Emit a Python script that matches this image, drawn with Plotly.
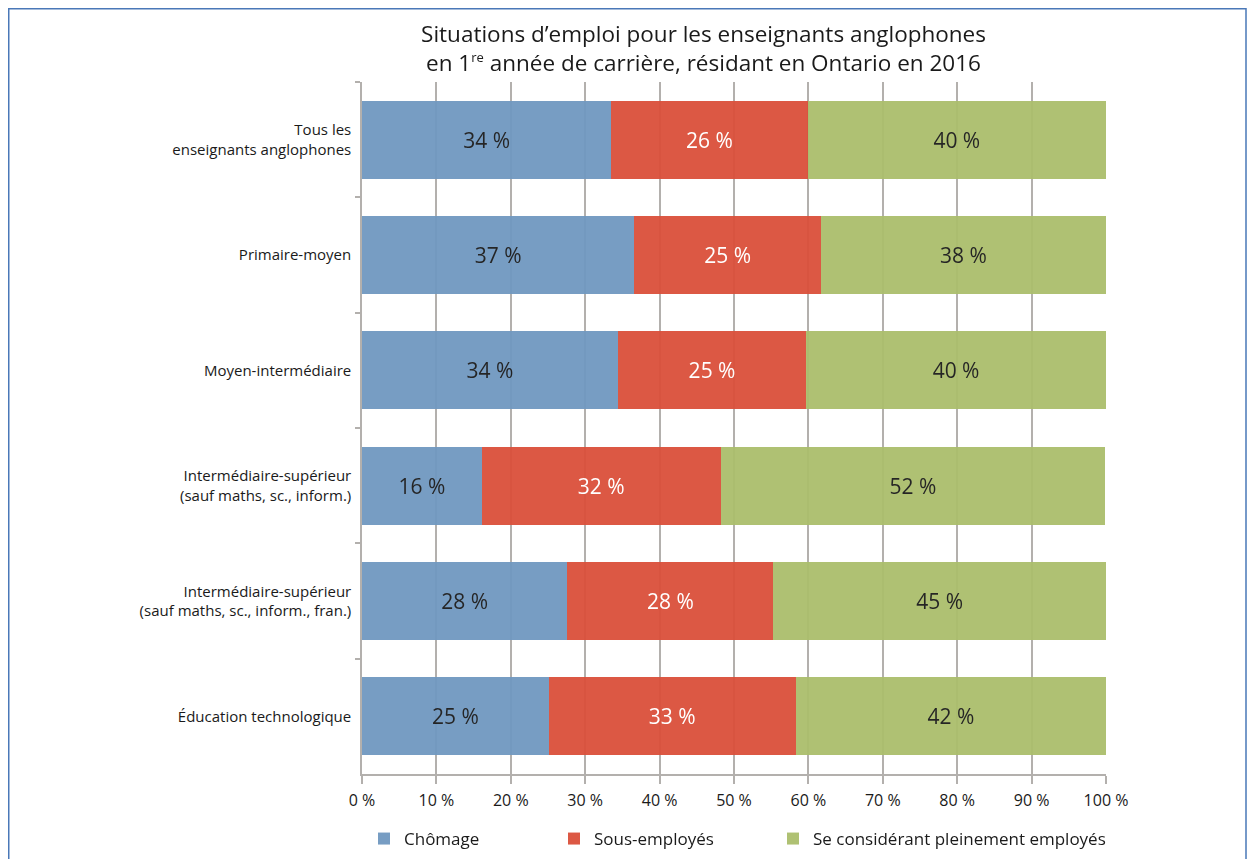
import plotly.graph_objects as go

categories = [
    "Tous les<br>enseignants anglophones",
    "Primaire-moyen",
    "Moyen-intermédiaire",
    "Intermédiaire-supérieur<br>(sauf maths, sc., inform.)",
    "Intermédiaire-supérieur<br>(sauf maths, sc., inform., fran.)",
    "Éducation technologique",
]
chomage = [33.5, 36.6, 34.4, 16.1, 27.6, 25.1]
sous_employes = [26.4, 25.1, 25.3, 32.1, 27.7, 33.2]
pleinement = [40.1, 38.3, 40.3, 51.7, 44.7, 41.7]
chomage_lbl = ["34 %", "37 %", "34 %", "16 %", "28 %", "25 %"]
sous_lbl = ["26 %", "25 %", "25 %", "32 %", "28 %", "33 %"]
plein_lbl = ["40 %", "38 %", "40 %", "52 %", "45 %", "42 %"]
tick_vals = [0, 10, 20, 30, 40, 50, 60, 70, 80, 90, 100]
tick_text = ["0 %", "10 %", "20 %", "30 %", "40 %", "50 %", "60 %", "70 %", "80 %", "90 %", "100 %"]

FONT = "Open Sans"
WT = 500
TXT = "#1a1a1a"
W, H = 1239, 851
L, R, T, B = 354, 141, 74, 85
PW, PH = W - L - R, H - T - B

series = [
    ("Chômage", chomage, chomage_lbl, "#7098c0", TXT, "legend"),
    ("Sous-employés", sous_employes, sous_lbl, "#db503a", "#ffffff", "legend2"),
    ("Se considérant pleinement employés", pleinement, plein_lbl, "#abbe6c", TXT, "legend3"),
]

fig = go.Figure()
for name, vals, lbls, col, tcol, lg in series:
    fig.add_trace(go.Bar(
        name=name, y=categories, x=vals, orientation="h",
        marker=dict(color=col, line=dict(width=0)), opacity=0.95,
        text=lbls, textposition="inside", insidetextanchor="middle",
        textfont=dict(size=21, color=tcol, family=FONT, weight=WT),
        legend=lg, cliponaxis=False,
    ))

title = ("Situations d’emploi pour les enseignants anglophones<br>"
         "en 1<sup><span style=\"font-size:13px\">re</span></sup> année de carrière, résidant en Ontario en 2016")

leg_common = dict(orientation="h", yref="container", y=1 - 831 / H, yanchor="middle",
                  xref="paper", xanchor="left",
                  font=dict(size=17, family=FONT, color=TXT, weight=WT),
                  bgcolor="rgba(0,0,0,0)", itemclick=False)

fig.update_layout(
    width=W, height=H,
    margin=dict(l=L, r=R, t=T, b=B, autoexpand=False),
    paper_bgcolor="white", plot_bgcolor="white",
    barmode="stack", bargap=0.325,
    font=dict(family=FONT, color=TXT, weight=WT),
    title=dict(text=title, x=(695.5 - L) / PW, xref="paper", xanchor="center",
               y=1 - 34 / H, yref="container", yanchor="middle",
               font=dict(size=22.5, family=FONT, color=TXT, weight=WT)),
    uniformtext=dict(minsize=21, mode="show"),
    legend=dict(x=(356 - L) / PW, **leg_common),
    legend2=dict(x=(546 - L) / PW, **leg_common),
    legend3=dict(x=(765 - L) / PW, **leg_common),
    showlegend=True,
)
fig.update_xaxes(
    range=[0, 100.001], tickvals=tick_vals, ticktext=tick_text,
    showgrid=True, gridcolor="#b3b0ad", gridwidth=1.5,
    showline=True, linecolor="#b3b0ad", linewidth=1.5,
    ticks="outside", ticklen=8, tickcolor="#b3b0ad", tickwidth=1.5,
    tickfont=dict(size=16, family=FONT, color=TXT, weight=WT), ticklabelstandoff=3,
    zeroline=False, fixedrange=True, automargin=False,
)
fig.update_yaxes(
    autorange="reversed", tickson="boundaries",
    showline=True, linecolor="#b3b0ad", linewidth=1.5,
    ticks="outside", ticklen=5, tickcolor="#b3b0ad", tickwidth=1.5,
    tickfont=dict(size=15, family=FONT, color=TXT, weight=WT), ticklabelstandoff=6,
    showgrid=False, fixedrange=True, automargin=False,
)
fig.add_shape(type="rect", xref="paper", yref="paper",
              x0=(0.75 - L) / PW, x1=(1238 - L) / PW,
              y0=-0.3, y1=(766 - 0.75) / PH,
              line=dict(color="#4a78b8", width=1.5), fillcolor="rgba(0,0,0,0)",
              layer="above")

fig.write_html("out.html")
